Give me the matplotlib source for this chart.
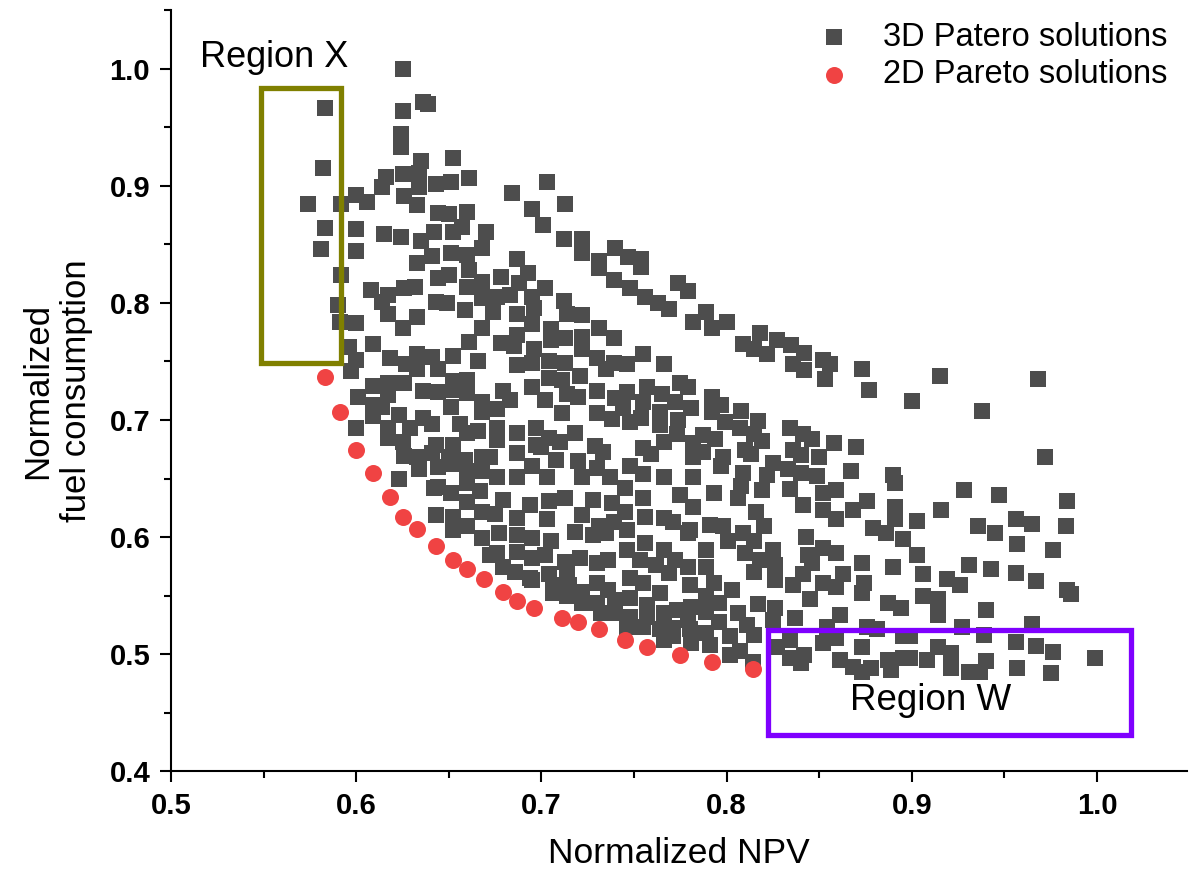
import matplotlib
matplotlib.use("Agg")
import matplotlib.pyplot as plt
from matplotlib.patches import Rectangle
from matplotlib.ticker import MultipleLocator

plt.rcParams['font.family'] = ['Liberation Sans', 'DejaVu Sans']

# 3D Pareto solutions (normalized NPV, normalized fuel consumption)
npv_3d = [
    0.625, 0.583, 0.636, 0.639, 0.625, 0.624, 0.624, 0.635, 0.652, 0.582, 0.616, 0.625, 0.634,
    0.634, 0.643, 0.651, 0.661, 0.614, 0.600, 0.606, 0.574, 0.592, 0.626, 0.633, 0.644, 0.650,
    0.660, 0.583, 0.600, 0.615, 0.624, 0.635, 0.642, 0.652, 0.657, 0.670, 0.581, 0.600, 0.641,
    0.651, 0.660, 0.668, 0.633,
    0.703, 0.684, 0.695, 0.713, 0.701, 0.712, 0.722, 0.722, 0.740, 0.687, 0.731, 0.747, 0.754,
    0.592, 0.644, 0.650, 0.661, 0.668, 0.608, 0.617, 0.626, 0.632, 0.660, 0.590, 0.614, 0.643,
    0.649, 0.659, 0.668, 0.591, 0.600, 0.617, 0.633, 0.625, 0.668, 0.596, 0.609, 0.661, 0.600,
    0.618, 0.627, 0.633, 0.641, 0.652, 0.633, 0.644, 0.666, 0.597, 0.609, 0.617, 0.626, 0.636,
    0.644, 0.652, 0.660, 0.652, 0.660, 0.601, 0.617, 0.668, 0.609, 0.614, 0.651, 0.668, 0.609,
    0.623, 0.636, 0.641, 0.600, 0.617, 0.629, 0.656, 0.666, 0.660, 0.617, 0.625, 0.643, 0.652,
    0.626, 0.633, 0.641, 0.650, 0.659, 0.668, 0.634, 0.644, 0.652, 0.623, 0.660, 0.668,
    0.678, 0.693, 0.688, 0.702, 0.731, 0.739, 0.754, 0.748, 0.756, 0.763, 0.769, 0.774, 0.779,
    0.782, 0.676, 0.683, 0.695, 0.687, 0.696, 0.712, 0.714, 0.722, 0.674, 0.695, 0.705, 0.713,
    0.705, 0.731, 0.739, 0.722, 0.678, 0.687, 0.685, 0.696, 0.722, 0.687, 0.695, 0.704, 0.713,
    0.730, 0.735, 0.739, 0.746, 0.755, 0.766, 0.721, 0.704, 0.711, 0.695, 0.714, 0.720, 0.702,
    0.730, 0.679, 0.683, 0.676, 0.711, 0.730, 0.740, 0.746, 0.757, 0.765, 0.775, 0.779, 0.755,
    0.772, 0.781, 0.744, 0.764, 0.738, 0.748, 0.754, 0.764, 0.774, 0.773, 0.676, 0.676, 0.687,
    0.697, 0.704, 0.710, 0.718, 0.697, 0.687, 0.700, 0.729, 0.733, 0.755, 0.759, 0.766, 0.782,
    0.782, 0.708, 0.720, 0.695, 0.730, 0.748, 0.676, 0.687, 0.703, 0.722, 0.737, 0.755, 0.766,
    0.782, 0.672,
    0.789, 0.800, 0.792, 0.818, 0.809, 0.815, 0.827, 0.822, 0.835, 0.842, 0.836, 0.842, 0.852,
    0.856, 0.853, 0.873, 0.877, 0.900, 0.792, 0.797, 0.792, 0.808, 0.799, 0.817, 0.807, 0.787,
    0.794, 0.815, 0.819, 0.834, 0.841, 0.846, 0.858, 0.870, 0.787, 0.810, 0.813, 0.836, 0.840,
    0.798, 0.797, 0.825, 0.850, 0.809, 0.822, 0.833, 0.840, 0.849, 0.867, 0.890,
    0.915, 0.968, 0.938, 0.972,
    0.928, 0.947, 0.984, 0.916, 0.903, 0.936, 0.945, 0.956, 0.965, 0.983, 0.957, 0.976, 0.903,
    0.931, 0.943, 0.956, 0.967, 0.906, 0.919, 0.926, 0.984, 0.986, 0.906, 0.914, 0.914, 0.940,
    0.927, 0.965, 0.939, 0.899, 0.956, 0.914, 0.921, 0.967, 0.976, 0.999, 0.908, 0.940, 0.921,
    0.931, 0.937, 0.957, 0.975, 0.899,
    0.793, 0.808, 0.819, 0.834, 0.841, 0.852, 0.859, 0.852, 0.859, 0.868, 0.876, 0.891, 0.891,
    0.879, 0.886, 0.895, 0.891, 0.806, 0.816, 0.820, 0.791, 0.798, 0.809, 0.815, 0.801, 0.789,
    0.825, 0.810, 0.818, 0.826, 0.815, 0.789, 0.843, 0.852, 0.859, 0.844, 0.846, 0.873, 0.890,
    0.841, 0.863, 0.826, 0.836, 0.852, 0.859, 0.874, 0.873, 0.793, 0.803, 0.789, 0.845, 0.887,
    0.894, 0.796, 0.817, 0.826, 0.789, 0.806, 0.837, 0.861, 0.825, 0.796, 0.811, 0.854, 0.876,
    0.881, 0.895, 0.789, 0.802, 0.815, 0.834, 0.859, 0.852, 0.873, 0.791, 0.807, 0.827, 0.842,
    0.834, 0.861, 0.868, 0.878, 0.887, 0.895, 0.802, 0.840, 0.814, 0.889, 0.873,
    0.642, 0.745, 0.679, 0.694, 0.704, 0.713, 0.728, 0.738, 0.745, 0.755, 0.775, 0.782, 0.675,
    0.687, 0.703, 0.722, 0.731, 0.739, 0.746, 0.756, 0.766, 0.771, 0.780, 0.677, 0.687, 0.695,
    0.705, 0.718, 0.728, 0.735, 0.746, 0.756, 0.766, 0.779, 0.676, 0.687, 0.695, 0.702, 0.713,
    0.721, 0.730, 0.736, 0.753, 0.762, 0.772, 0.779, 0.679, 0.686, 0.694, 0.704, 0.714, 0.748,
    0.769, 0.755, 0.695, 0.706, 0.715, 0.730, 0.736, 0.780, 0.764, 0.706, 0.714, 0.722, 0.730,
    0.740, 0.748, 0.757, 0.773, 0.781, 0.732, 0.740, 0.748, 0.757, 0.766, 0.779, 0.746, 0.755,
    0.764, 0.771, 0.780, 0.766, 0.781, 0.771, 0.713, 0.722, 0.694,
    0.644, 0.651, 0.660, 0.667, 0.660, 0.668, 0.643, 0.652, 0.652, 0.660, 0.668, 0.672,
]
fuel_3d = [
    1.000, 0.967, 0.972, 0.970, 0.964, 0.944, 0.933, 0.921, 0.924, 0.915, 0.908, 0.910, 0.911,
    0.899, 0.902, 0.903, 0.907, 0.899, 0.892, 0.886, 0.885, 0.885, 0.891, 0.884, 0.877, 0.876,
    0.878, 0.864, 0.863, 0.859, 0.856, 0.853, 0.861, 0.861, 0.865, 0.861, 0.846, 0.844, 0.840,
    0.843, 0.841, 0.847, 0.834,
    0.903, 0.894, 0.880, 0.885, 0.867, 0.855, 0.855, 0.843, 0.847, 0.838, 0.836, 0.839, 0.838,
    0.824, 0.821, 0.824, 0.828, 0.818, 0.811, 0.807, 0.813, 0.814, 0.814, 0.798, 0.801, 0.801,
    0.800, 0.794, 0.804, 0.784, 0.783, 0.791, 0.788, 0.779, 0.779, 0.762, 0.765, 0.767, 0.751,
    0.753, 0.748, 0.756, 0.754, 0.755, 0.744, 0.744, 0.750, 0.742, 0.729, 0.732, 0.732, 0.725,
    0.724, 0.733, 0.734, 0.726, 0.723, 0.720, 0.721, 0.715, 0.713, 0.711, 0.711, 0.707, 0.703,
    0.704, 0.702, 0.697, 0.693, 0.693, 0.693, 0.697, 0.691, 0.689, 0.685, 0.681, 0.679, 0.679,
    0.669, 0.668, 0.672, 0.668, 0.666, 0.668, 0.658, 0.660, 0.662, 0.650, 0.656, 0.656,
    0.822, 0.826, 0.817, 0.813, 0.830, 0.820, 0.831, 0.813, 0.805, 0.800, 0.795, 0.817, 0.810,
    0.784, 0.805, 0.807, 0.805, 0.791, 0.796, 0.802, 0.791, 0.790, 0.792, 0.782, 0.778, 0.770,
    0.768, 0.779, 0.770, 0.771, 0.766, 0.773, 0.763, 0.761, 0.761, 0.747, 0.749, 0.750, 0.749,
    0.753, 0.744, 0.749, 0.748, 0.756, 0.748, 0.738, 0.736, 0.734, 0.728, 0.722, 0.720, 0.717,
    0.725, 0.725, 0.717, 0.709, 0.706, 0.706, 0.719, 0.724, 0.728, 0.722, 0.732, 0.728, 0.715,
    0.715, 0.710, 0.710, 0.707, 0.701, 0.698, 0.702, 0.696, 0.700, 0.688, 0.693, 0.683, 0.689,
    0.693, 0.685, 0.681, 0.689, 0.679, 0.672, 0.677, 0.678, 0.673, 0.676, 0.671, 0.681, 0.680,
    0.668, 0.666, 0.665, 0.661, 0.659, 0.661, 0.651, 0.651, 0.651, 0.651, 0.651, 0.654, 0.651,
    0.651, 0.668,
    0.792, 0.784, 0.779, 0.774, 0.765, 0.761, 0.768, 0.756, 0.764, 0.757, 0.748, 0.743, 0.751,
    0.748, 0.735, 0.744, 0.726, 0.716, 0.720, 0.713, 0.707, 0.708, 0.698, 0.699, 0.693, 0.687,
    0.684, 0.688, 0.682, 0.693, 0.688, 0.684, 0.680, 0.677, 0.673, 0.674, 0.671, 0.674, 0.670,
    0.668, 0.661, 0.663, 0.668, 0.655, 0.653, 0.658, 0.655, 0.652, 0.656, 0.653,
    0.738, 0.735, 0.708, 0.668,
    0.640, 0.636, 0.631, 0.623, 0.614, 0.609, 0.603, 0.615, 0.611, 0.609, 0.594, 0.589, 0.585,
    0.576, 0.573, 0.569, 0.562, 0.568, 0.564, 0.559, 0.555, 0.551, 0.550, 0.547, 0.533, 0.538,
    0.523, 0.526, 0.516, 0.515, 0.510, 0.506, 0.501, 0.507, 0.502, 0.497, 0.495, 0.494, 0.488,
    0.485, 0.485, 0.488, 0.484, 0.497,
    0.638, 0.644, 0.640, 0.641, 0.627, 0.638, 0.640, 0.623, 0.615, 0.623, 0.631, 0.626, 0.615,
    0.608, 0.603, 0.598, 0.646, 0.633, 0.621, 0.609, 0.610, 0.609, 0.603, 0.597, 0.597, 0.589,
    0.589, 0.586, 0.580, 0.576, 0.570, 0.574, 0.600, 0.591, 0.586, 0.585, 0.578, 0.578, 0.574,
    0.568, 0.568, 0.563, 0.559, 0.561, 0.557, 0.561, 0.552, 0.561, 0.555, 0.550, 0.547, 0.544,
    0.539, 0.544, 0.543, 0.539, 0.536, 0.535, 0.531, 0.533, 0.529, 0.527, 0.525, 0.523, 0.523,
    0.521, 0.515, 0.518, 0.515, 0.516, 0.512, 0.514, 0.509, 0.506, 0.508, 0.503, 0.506, 0.499,
    0.497, 0.495, 0.489, 0.488, 0.495, 0.497, 0.499, 0.492, 0.493, 0.486, 0.485,
    0.642, 0.642, 0.632, 0.627, 0.631, 0.633, 0.632, 0.629, 0.621, 0.633, 0.636, 0.626, 0.620,
    0.616, 0.615, 0.619, 0.609, 0.613, 0.606, 0.617, 0.616, 0.613, 0.606, 0.603, 0.602, 0.599,
    0.597, 0.604, 0.602, 0.603, 0.589, 0.595, 0.589, 0.603, 0.586, 0.587, 0.582, 0.585, 0.579,
    0.582, 0.578, 0.580, 0.580, 0.576, 0.580, 0.574, 0.574, 0.570, 0.565, 0.568, 0.569, 0.565,
    0.569, 0.561, 0.563, 0.559, 0.559, 0.561, 0.555, 0.559, 0.552, 0.552, 0.550, 0.544, 0.544,
    0.546, 0.548, 0.542, 0.538, 0.540, 0.535, 0.535, 0.532, 0.532, 0.535, 0.529, 0.523, 0.523,
    0.521, 0.522, 0.521, 0.512, 0.509, 0.515, 0.557, 0.553, 0.565,
    0.643, 0.638, 0.646, 0.639, 0.630, 0.621, 0.619, 0.617, 0.606, 0.609, 0.599, 0.585,
]

# 2D Pareto solutions
npv_2d = [0.583, 0.591, 0.600, 0.609, 0.618, 0.625, 0.633, 0.643, 0.652, 0.660, 0.669,
          0.679, 0.687, 0.696, 0.711, 0.720, 0.731, 0.745, 0.757, 0.775, 0.792, 0.814]
fuel_2d = [0.737, 0.707, 0.674, 0.655, 0.634, 0.617, 0.607, 0.592, 0.580, 0.573, 0.564,
           0.553, 0.545, 0.539, 0.531, 0.527, 0.521, 0.512, 0.506, 0.499, 0.493, 0.487]

fig = plt.figure(figsize=(11.95, 8.83), dpi=100)
ax = fig.add_axes([0.1431, 0.1268, 0.8502, 0.8619])

ax.scatter(npv_3d, fuel_3d, marker='s', s=135, color='#4d4d4d', linewidths=0,
           label='3D Patero solutions', zorder=2)
ax.scatter(npv_2d, fuel_2d, marker='o', s=150, color='#f04343', linewidths=0,
           label='2D Pareto solutions', zorder=3)

# highlighted regions
ax.add_patch(Rectangle((0.5486, 0.7487), 0.0432, 0.2351, fill=False,
                       edgecolor='#808000', linewidth=3.8, zorder=4))
ax.add_patch(Rectangle((0.8224, 0.4308), 0.1960, 0.0897, fill=False,
                       edgecolor='#7f00ff', linewidth=3.8, zorder=4))
ax.text(0.5157, 1.0094, 'Region X', fontsize=26, va='center', ha='left')
ax.text(0.9104, 0.4607, 'Region W', fontsize=26.5, va='center', ha='center', zorder=5)

ax.set_xlim(0.5, 1.0486)
ax.set_ylim(0.4, 1.0504)
ax.xaxis.set_major_locator(MultipleLocator(0.1))
ax.xaxis.set_minor_locator(MultipleLocator(0.05))
ax.yaxis.set_major_locator(MultipleLocator(0.1))
ax.yaxis.set_minor_locator(MultipleLocator(0.05))
ax.tick_params(which='major', direction='out', length=8, width=1.5, labelsize=21, pad=7)
ax.tick_params(which='minor', direction='out', length=5, width=1.5)
for lab in ax.get_xticklabels() + ax.get_yticklabels():
    lab.set_fontweight('bold')

for side in ['top', 'right']:
    ax.spines[side].set_visible(False)
for side in ['left', 'bottom']:
    ax.spines[side].set_linewidth(1.5)

ax.set_xlabel('Normalized NPV', fontsize=25.5, labelpad=12)
ax.set_ylabel('Normalized\nfuel consumption', fontsize=25, labelpad=12)

ax.legend(loc='upper right', bbox_to_anchor=(1.0, 1.01), frameon=False, fontsize=23.5,
          handletextpad=0.5, labelspacing=0.2, borderaxespad=0.2)

fig.savefig('out.png', dpi=100)
